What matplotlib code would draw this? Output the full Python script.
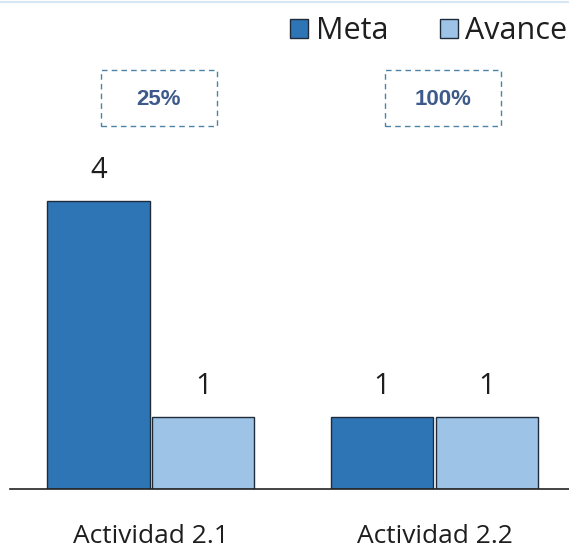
import matplotlib
matplotlib.use('Agg')
import matplotlib.pyplot as plt
import numpy as np
from matplotlib.patches import Rectangle

# Data
categories = ['Actividad 2.1', 'Actividad 2.2']
meta = [4, 1]
avance = [1, 1]
percent_labels = ['25%', '100%']

plt.rcParams['font.family'] = ['Open Sans', 'DejaVu Sans']

meta_color = '#2e75b6'
avance_color = '#9dc3e6'
text_color = '#1e1e1e'

fig = plt.figure(figsize=(5.69, 5.57), dpi=100)
ax = fig.add_axes([10/569, 68/557, 559/569, 489/557])

x = np.arange(len(categories))
width = 0.36
offset = 0.185

bars_m = ax.bar(x - offset, meta, width, color=meta_color, edgecolor='#1f2b38',
                linewidth=1.0, label='Meta')
bars_a = ax.bar(x + offset, avance, width, color=avance_color, edgecolor='#1f2b38',
                linewidth=1.0, label='Avance')

# value labels above bars
for bars in (bars_m, bars_a):
    for b in bars:
        ax.text(b.get_x() + b.get_width()/2, b.get_height() + 0.22, str(int(b.get_height())),
                ha='center', va='bottom', fontsize=21, color=text_color)

ax.set_xlim(-0.497, 1.474)
ax.set_ylim(0, 6.79)
for s in ['top', 'right', 'left']:
    ax.spines[s].set_visible(False)
ax.spines['bottom'].set_color('#222222')
ax.spines['bottom'].set_linewidth(1.2)
ax.set_yticks([])
ax.set_xticks(x)
ax.set_xticklabels(categories, fontsize=19, color=text_color)
ax.tick_params(axis='x', length=0, pad=25)

# dashed percentage boxes
for i, p in enumerate(percent_labels):
    bx0 = (101 - 151)/283.5 + i
    bw = 116/283.5
    by0 = (489 - 126)/72
    bh = 56/72
    ax.add_patch(Rectangle((bx0, by0), bw, bh, fill=False, edgecolor='#4b84a6',
                           linestyle=(0, (4, 3)), linewidth=1.0, clip_on=False))
    ax.text(bx0 + bw/2, by0 + bh/2 - 0.02, p, ha='center', va='center', fontsize=16,
            fontweight='bold', color='#3d5a8a',
            family=['Liberation Sans Narrow', 'Liberation Sans', 'DejaVu Sans'])

leg = ax.legend(loc='upper right', bbox_to_anchor=(1.03, 1.005), ncol=2, frameon=False,
                fontsize=22, handlelength=0.58, handleheight=0.58, handletextpad=0.25,
                columnspacing=1.7, borderaxespad=0.2)
for t in leg.get_texts():
    t.set_color(text_color)

# faint top border line
fig.add_artist(plt.Line2D([0, 1], [0.997, 0.997], color='#d6e6f4', linewidth=1.5))

fig.savefig('out.png', dpi=100)
